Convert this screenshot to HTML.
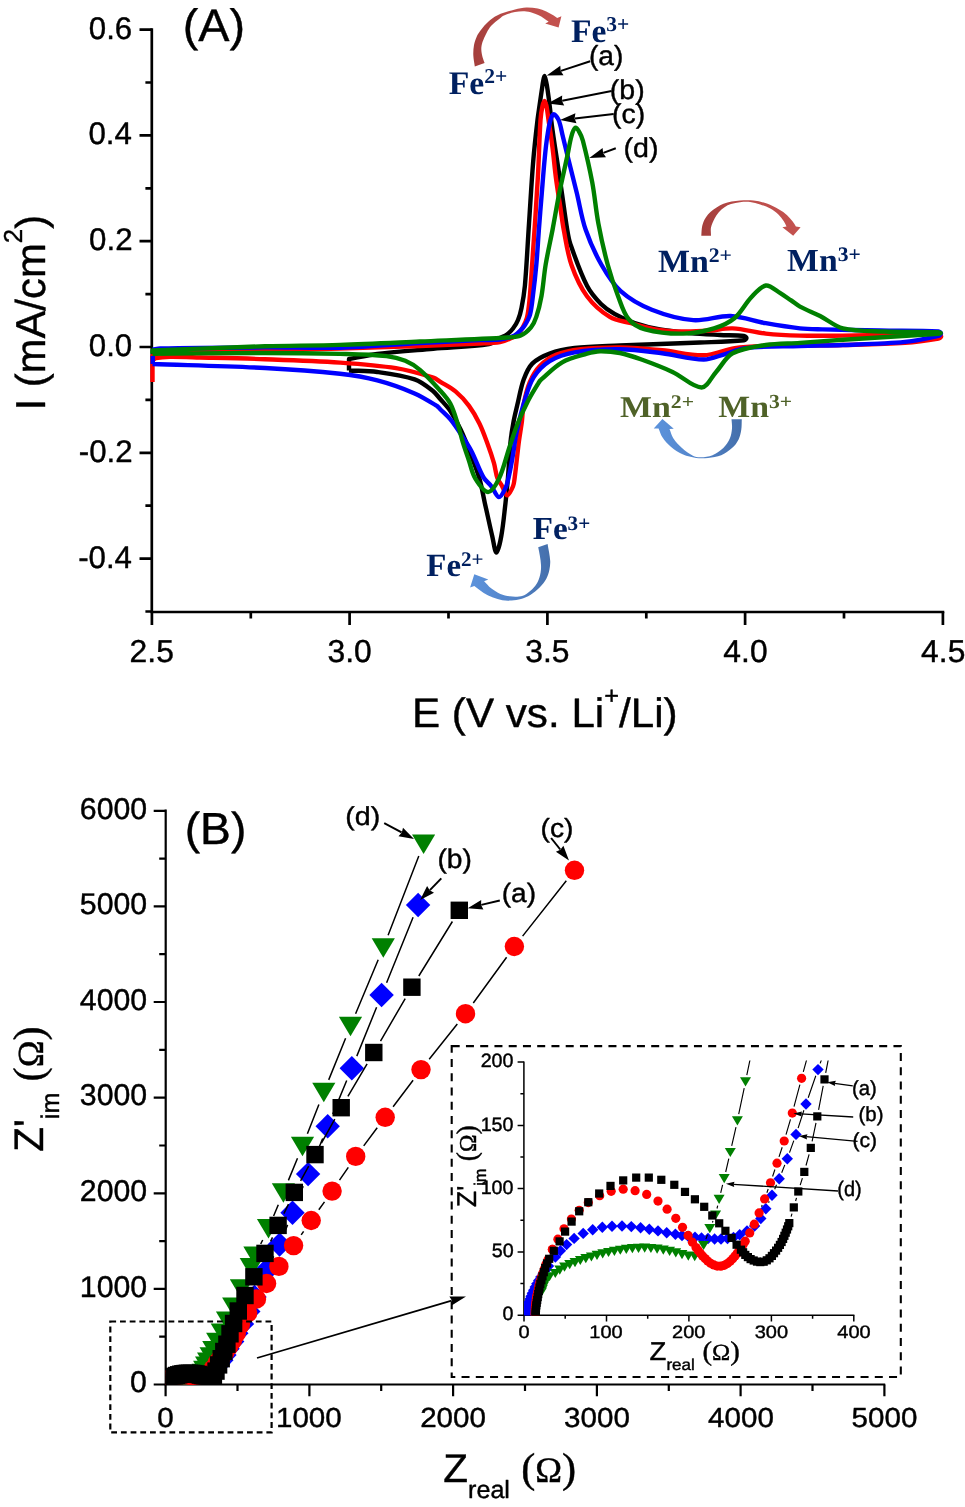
<!DOCTYPE html>
<html><head><meta charset="utf-8"><style>
html,body{margin:0;padding:0;background:#fff;}
svg{display:block;}
svg{will-change:transform;}

</style></head><body>
<svg width="965" height="1507" viewBox="0 0 965 1507" text-rendering="geometricPrecision">
<defs>
<clipPath id="clipM"><rect x="165.6" y="780" width="760" height="604.5"/></clipPath>
<clipPath id="clipI"><rect x="524" y="1060.5" width="340" height="254.7"/></clipPath>
<linearGradient id="gRed" gradientUnits="objectBoundingBox" x1="0" y1="0" x2="1" y2="0"><stop offset="0" stop-color="#a33e3b"/><stop offset="0.45" stop-color="#bb4d4a"/><stop offset="1" stop-color="#c4524f"/></linearGradient>
<linearGradient id="gBlue" gradientUnits="objectBoundingBox" x1="0" y1="0" x2="1" y2="0"><stop offset="0" stop-color="#5c93dc"/><stop offset="0.5" stop-color="#5485ca"/><stop offset="1" stop-color="#446fab"/></linearGradient>
</defs>
<rect width="965" height="1507" fill="#fff"/>
<path d="M151.8,28.3V613.3 M150.5,612H944.3" stroke="#000" stroke-width="2.7" fill="none"/>
<path d="M139.5,29.6H151.8 M145.4,82.5H151.8 M139.5,135.4H151.8 M145.4,188.3H151.8 M139.5,241.2H151.8 M145.4,294.1H151.8 M139.5,347.0H151.8 M145.4,399.9H151.8 M139.5,452.8H151.8 M145.4,505.7H151.8 M139.5,558.6H151.8 M145.4,611.5H151.8 M151.9,612V624.9 M250.8,612V618.5 M349.6,612V624.9 M448.5,612V618.5 M547.4,612V624.9 M646.3,612V618.5 M745.1,612V624.9 M844.0,612V618.5 M942.9,612V624.9" stroke="#000" stroke-width="2.7" fill="none"/>
<path d="M165.7,809.6V1385.6 M164.6,1384.5H885.2" stroke="#000" stroke-width="2.2" fill="none"/>
<path d="M153.7,1384.5H165.7 M159.2,1336.7H165.7 M153.7,1288.9H165.7 M159.2,1241.1H165.7 M153.7,1193.3H165.7 M159.2,1145.5H165.7 M153.7,1097.6H165.7 M159.2,1049.8H165.7 M153.7,1002.0H165.7 M159.2,954.2H165.7 M153.7,906.4H165.7 M159.2,858.6H165.7 M153.7,810.8H165.7 M165.6,1384.5V1396.3 M237.5,1384.5V1391.0 M309.4,1384.5V1396.3 M381.2,1384.5V1391.0 M453.1,1384.5V1396.3 M525.0,1384.5V1391.0 M596.9,1384.5V1396.3 M668.8,1384.5V1391.0 M740.6,1384.5V1396.3 M812.5,1384.5V1391.0 M884.4,1384.5V1396.3" stroke="#000" stroke-width="2.2" fill="none"/>
<path d="M349.0,370.5 C349.0,366.7 349.0,362.8 349.0,359.0 L349.0,359.0 C358.4,357.3 367.8,355.2 377.3,354.0 C395.9,351.7 414.6,350.4 433.3,348.7 C451.9,347.0 470.8,346.9 489.0,344.0 C493.1,343.3 496.3,339.9 500.0,338.0 C502.3,336.8 504.9,336.0 507.0,334.5 C509.3,332.9 511.3,330.7 513.0,328.5 C515.0,325.9 516.8,323.0 518.0,320.0 C519.6,316.2 520.7,312.1 521.5,308.0 C523.0,300.7 524.2,293.3 524.9,285.8 C526.7,265.1 527.6,244.3 529.0,223.6 C530.4,202.9 531.5,182.2 533.2,161.5 C534.3,147.6 535.9,133.8 537.5,120.0 C538.1,115.0 538.9,110.0 539.6,105.0 C540.2,100.7 540.9,96.3 541.5,92.0 C542.1,88.3 542.5,84.6 543.2,81.0 C543.5,79.3 544.0,76.0 544.5,76.0 C545.0,76.0 545.6,79.3 546.0,81.0 C546.7,84.0 547.2,87.0 547.6,90.0 C548.5,96.2 549.3,102.3 550.0,108.5 C550.7,114.0 551.1,119.5 551.8,125.0 C552.8,132.3 553.9,139.7 555.0,147.0 C556.2,155.0 557.5,163.0 558.7,171.0 C559.8,178.3 560.8,185.7 561.9,193.0 C563.7,205.2 565.2,217.4 567.2,229.5 C568.0,234.5 568.8,239.6 570.5,244.4 C575.4,258.4 580.3,272.7 587.0,285.8 C590.5,292.6 595.7,298.6 601.0,304.0 C604.9,307.9 609.7,311.2 614.5,313.9 C620.9,317.5 627.7,320.7 634.7,323.1 C642.9,325.9 651.5,328.0 660.0,329.5 C669.9,331.3 680.0,332.1 690.0,333.0 C700.0,333.9 710.0,334.4 720.0,335.0 C728.0,335.4 736.2,335.1 744.0,336.0 C745.0,336.1 746.5,337.3 746.5,338.0 C746.5,338.7 745.1,340.2 744.0,340.3 C729.6,341.7 714.7,341.9 700.0,342.5 C686.7,343.1 673.3,343.5 660.0,344.0 C646.7,344.5 633.3,344.9 620.0,345.5 C604.9,346.2 589.6,346.3 574.6,348.0 C566.2,349.0 557.6,350.7 549.7,353.6 C543.5,355.9 536.9,359.0 532.3,363.6 C528.2,367.7 525.7,374.0 523.6,379.7 C520.7,387.7 519.4,396.3 517.4,404.6 C516.1,410.2 514.6,415.8 513.6,421.5 C512.3,428.4 511.2,435.3 510.5,442.2 C509.3,454.2 508.9,466.3 507.9,478.4 C507.2,486.6 506.4,494.7 505.5,502.9 C504.2,513.9 503.3,525.1 501.3,536.0 C500.3,541.7 497.9,552.6 496.4,552.6 C494.9,552.6 493.5,541.6 492.2,536.0 C489.6,525.0 487.3,513.9 484.8,502.9 C483.0,494.7 481.7,486.4 479.4,478.4 C476.8,469.6 473.4,461.1 470.1,452.5 C467.2,444.8 464.2,437.1 460.7,429.7 C457.7,423.3 454.3,417.0 450.4,411.1 C447.4,406.6 443.5,402.8 440.0,398.7 C437.7,396.1 435.7,393.1 433.0,391.0 C427.3,386.6 421.4,381.7 414.6,379.4 C402.8,375.4 389.8,373.7 377.3,372.0 C368.0,370.7 358.4,371.0 349.0,370.5" stroke="#000" stroke-width="4.4" fill="none" stroke-linejoin="round" stroke-linecap="butt"/>
<path d="M152.5,382.0 C152.5,373.3 152.5,364.7 152.5,356.0 L152.5,356.0 C155.0,354.8 157.3,352.6 160.0,352.3 C173.1,351.1 186.7,351.7 200.0,351.5 C221.7,351.1 243.3,350.9 265.0,350.5 C290.0,350.0 315.0,349.3 340.0,348.6 C366.7,347.8 393.3,347.0 420.0,346.0 C440.0,345.3 460.0,344.5 480.0,343.5 C486.7,343.2 493.5,343.2 500.0,342.0 C504.3,341.2 508.5,339.5 512.4,337.6 C514.5,336.6 516.4,335.1 518.0,333.5 C519.8,331.7 521.5,329.6 522.8,327.3 C524.5,324.2 526.2,320.9 527.0,317.5 C528.4,311.8 528.9,305.9 529.5,300.0 C530.6,288.4 531.3,276.7 532.1,265.0 C533.2,250.0 534.2,235.0 535.2,220.0 C536.2,205.0 537.2,190.0 538.0,175.0 C539.0,156.7 539.3,138.3 540.5,120.0 C540.8,115.3 541.5,110.6 542.5,106.0 C542.9,104.2 543.9,101.0 544.6,101.0 C545.3,101.0 546.1,104.3 546.5,106.0 C547.4,110.6 547.8,115.3 548.5,120.0 C549.2,125.0 550.1,130.0 550.8,135.0 C551.5,139.7 552.1,144.5 552.7,149.2 C553.9,158.9 554.7,168.7 556.0,178.4 C557.3,188.2 558.9,197.9 560.4,207.6 C561.5,214.9 562.3,222.3 563.7,229.5 C566.0,241.4 567.5,253.6 571.5,265.0 C575.3,275.9 580.2,287.0 587.0,296.2 C593.0,304.3 601.3,311.7 609.8,316.9 C616.0,320.7 624.0,321.3 631.1,323.2 C639.2,325.4 647.2,328.0 655.4,329.3 C664.4,330.7 673.7,331.3 682.9,331.5 C691.9,331.7 701.0,331.1 710.0,330.5 C717.5,330.0 725.1,328.0 732.6,328.4 C743.7,329.0 754.7,332.4 765.8,333.6 C777.1,334.8 788.6,335.3 800.0,335.6 C814.3,336.0 828.6,335.7 842.9,335.6 C863.6,335.4 884.3,334.9 905.0,334.6 C916.2,334.4 927.6,333.7 938.5,334.3 C939.6,334.4 941.2,335.8 941.2,336.5 C941.2,337.2 939.6,338.3 938.5,338.5 C927.5,340.4 916.2,342.1 905.0,342.9 C884.4,344.3 863.6,344.5 842.9,345.0 C828.6,345.4 814.3,345.4 800.0,345.5 C788.6,345.6 777.2,345.3 765.8,345.8 C755.4,346.2 744.9,346.5 734.7,348.1 C724.2,349.7 714.1,355.0 703.6,355.3 C689.9,355.7 676.0,351.5 662.2,350.2 C648.2,348.9 634.1,347.6 620.0,347.4 C606.9,347.3 593.7,347.8 580.8,349.3 C572.4,350.3 563.7,351.7 556.0,354.9 C550.0,357.3 544.3,361.5 539.8,366.1 C535.5,370.6 532.2,376.4 529.8,382.2 C526.8,389.3 525.1,397.0 523.6,404.6 C522.5,410.1 522.6,415.9 521.9,421.5 C521.0,428.4 519.7,435.3 518.8,442.2 C517.3,454.2 516.2,466.4 514.6,478.4 C514.2,481.1 514.1,483.9 513.0,486.3 C511.6,489.5 509.0,495.4 507.2,495.4 C505.4,495.4 503.9,489.3 502.2,486.3 C500.7,483.6 498.5,481.3 497.5,478.4 C495.7,473.5 495.4,468.0 493.9,462.9 C492.1,456.6 490.0,450.4 487.7,444.2 C485.1,437.2 482.7,430.2 479.4,423.5 C476.4,417.4 473.0,411.3 469.0,405.9 C465.1,400.6 460.5,395.6 455.5,391.4 C450.9,387.5 445.2,384.8 440.0,381.6 C437.8,380.2 435.8,378.4 433.3,377.6 C421.1,373.9 408.6,370.2 396.0,368.2 C377.5,365.2 358.7,363.9 340.0,362.6 C315.0,360.9 290.0,360.1 265.0,359.2 C243.3,358.4 221.7,358.0 200.0,357.5 C190.0,357.2 180.0,356.7 170.0,356.8 C165.3,356.9 160.5,357.2 156.0,358.0 C154.8,358.2 154.0,359.3 153.0,360.0" stroke="#ff0000" stroke-width="4.4" fill="none" stroke-linejoin="round" stroke-linecap="butt"/>
<path d="M152.8,364.0 C152.8,361.3 152.8,358.7 152.8,356.0 M152.5,349.5 C155.0,349.2 157.5,348.5 160.0,348.5 C195.0,347.8 230.0,347.6 265.0,347.4 C290.0,347.3 315.0,348.4 340.0,347.7 C366.7,346.9 393.3,344.5 420.0,343.0 C440.0,341.9 460.0,340.9 480.0,340.0 C486.7,339.7 493.4,340.4 500.0,339.5 C504.9,338.9 510.0,337.5 514.5,335.5 C516.8,334.5 518.7,332.3 520.5,330.5 C522.1,328.9 523.7,327.2 524.9,325.2 C526.9,321.9 529.0,318.5 530.0,314.8 C531.7,308.4 532.2,301.6 533.0,295.0 C534.3,285.0 535.4,275.0 536.3,265.0 C537.4,253.2 538.0,241.3 538.9,229.5 C539.8,217.3 540.8,205.2 541.8,193.0 C542.8,180.8 543.7,168.7 544.9,156.5 C545.6,149.3 546.4,142.1 547.5,135.0 C548.3,130.0 549.0,124.8 550.5,120.0 C551.1,117.9 552.5,114.3 553.8,114.3 C555.2,114.3 557.7,117.8 558.6,120.0 C560.6,124.7 561.3,130.0 562.5,135.0 C564.3,142.2 565.9,149.3 567.7,156.5 C570.7,168.7 573.8,180.8 576.8,193.0 C579.8,205.2 581.5,217.7 585.6,229.5 C589.8,241.7 595.2,253.8 601.6,265.0 C606.9,274.3 612.8,284.1 620.7,291.1 C629.5,299.0 640.7,305.3 651.8,309.7 C664.9,314.9 679.3,319.0 693.3,320.1 C705.6,321.1 718.3,315.5 730.6,316.0 C742.4,316.5 754.0,321.1 765.8,323.2 C777.1,325.2 788.6,327.1 800.0,328.4 C807.4,329.2 814.8,329.2 822.2,329.4 C841.5,329.9 860.7,330.2 880.0,330.5 C899.5,330.9 919.2,330.6 938.5,331.5 C939.6,331.6 941.0,332.8 941.0,333.5 C941.0,334.2 939.6,335.5 938.5,335.8 C927.6,338.3 916.3,340.8 905.0,341.9 C884.4,343.9 863.6,344.2 842.9,345.0 C828.6,345.6 814.3,345.5 800.0,346.0 C781.7,346.6 763.2,346.1 745.1,348.1 C738.0,348.9 731.3,352.4 724.4,354.3 C717.5,356.2 710.6,359.6 703.6,359.5 C689.9,359.3 676.0,355.0 662.2,353.3 C648.2,351.6 634.1,349.4 620.0,349.3 C604.9,349.1 589.4,349.9 574.6,352.4 C566.0,353.8 557.0,356.7 549.7,361.1 C543.4,365.0 537.6,371.0 533.6,377.3 C529.4,383.9 527.3,392.0 524.9,399.6 C521.6,410.2 519.0,421.0 516.7,431.8 C514.9,440.3 514.0,449.1 512.5,457.7 C511.3,464.6 510.0,471.6 508.4,478.4 C507.6,481.7 507.0,485.1 505.5,488.0 C503.8,491.3 501.1,497.4 498.9,497.1 C496.4,496.8 494.1,489.7 491.4,486.3 C489.0,483.2 485.4,480.8 483.5,477.4 C478.7,468.9 475.7,459.2 471.1,450.5 C468.1,444.7 464.3,439.3 460.7,433.9 C457.4,429.0 454.2,423.9 450.4,419.4 C447.3,415.6 443.5,412.5 440.0,409.0 C439.0,408.0 438.2,406.7 437.0,406.0 C429.7,401.5 422.4,396.8 414.6,393.4 C402.5,388.2 390.0,383.7 377.3,380.4 C365.1,377.2 352.5,375.2 340.0,373.8 C315.1,371.1 290.0,369.3 265.0,368.0 C227.5,366.0 190.0,365.3 152.5,364.0" stroke="#0000ff" stroke-width="4.4" fill="none" stroke-linejoin="round" stroke-linecap="butt"/>
<path d="M152.5,353.7 C152.5,352.6 152.5,351.6 152.5,350.5 L152.5,350.5 C190.0,349.1 227.5,347.3 265.0,346.2 C290.0,345.5 315.0,345.7 340.0,344.9 C366.7,344.1 393.3,342.7 420.0,341.5 C449.3,340.2 478.6,339.2 507.9,337.5 C512.2,337.2 516.9,337.2 520.7,335.5 C524.6,333.8 528.2,330.6 531.0,327.3 C533.4,324.4 535.1,320.6 536.3,316.9 C538.6,310.1 540.2,303.1 541.5,296.0 C543.3,285.8 543.9,275.3 545.6,265.0 C547.6,253.1 550.3,241.3 552.6,229.5 C554.9,217.3 556.9,205.1 559.3,193.0 C561.7,180.8 564.6,168.7 567.2,156.5 C568.7,149.7 569.6,142.7 571.5,136.0 C572.3,133.1 573.8,128.6 575.4,127.7 C576.4,127.2 578.3,130.2 579.2,131.8 C580.8,134.5 582.1,137.6 582.9,140.7 C586.4,154.4 589.6,168.3 592.2,182.2 C594.8,195.9 595.8,209.9 598.4,223.6 C601.0,237.5 604.1,251.4 607.8,265.0 C610.7,275.6 614.2,286.0 618.1,296.2 C621.1,304.0 623.4,312.8 628.5,319.0 C632.4,323.8 638.9,327.6 645.1,329.3 C657.1,332.5 670.3,333.8 682.9,333.6 C693.3,333.5 704.0,331.4 714.0,328.4 C721.3,326.2 728.9,322.8 734.7,318.0 C741.3,312.5 745.2,303.7 751.3,297.3 C755.6,292.8 760.7,286.2 765.8,285.5 C770.3,284.9 775.6,290.4 780.3,293.2 C784.0,295.4 787.5,298.0 791.1,300.4 C794.1,302.4 796.8,304.9 800.0,306.6 C806.5,310.1 813.5,312.7 820.1,316.0 C827.8,319.9 834.7,326.4 842.9,328.4 C856.1,331.6 870.5,330.9 884.4,331.5 C902.4,332.2 920.5,331.8 938.5,332.3 C939.3,332.3 940.8,332.8 940.8,333.0 C940.8,333.3 939.3,333.7 938.5,333.8 C906.7,336.0 874.8,337.7 842.9,339.8 C828.6,340.7 814.3,341.9 800.0,342.9 C788.6,343.7 777.0,343.3 765.8,345.0 C754.6,346.7 742.2,348.1 732.6,353.3 C725.6,357.1 721.7,365.8 716.1,371.9 C711.3,377.2 707.3,387.5 701.6,387.5 C692.8,387.5 682.5,376.5 672.5,371.9 C662.4,367.2 652.0,363.3 641.5,359.5 C634.5,357.0 627.3,354.5 620.0,353.0 C613.5,351.7 606.6,351.1 600.0,351.2 C595.6,351.3 591.2,352.4 587.0,353.6 C578.6,356.1 569.7,358.0 562.2,362.3 C554.4,366.7 547.9,373.7 541.0,379.7 C539.9,380.6 539.1,381.9 538.4,383.1 C534.8,388.9 531.2,394.7 528.1,400.7 C524.3,408.1 520.8,415.8 517.7,423.5 C514.6,431.3 512.1,439.4 509.4,447.4 C505.9,457.7 503.7,468.7 499.1,478.4 C496.6,483.6 491.9,492.1 488.1,492.1 C484.0,492.1 478.4,483.6 475.2,478.4 C472.0,473.2 471.0,466.7 469.0,460.8 C466.9,454.6 464.7,448.4 462.8,442.2 C460.9,436.0 459.6,429.7 457.6,423.5 C455.5,416.9 453.6,409.9 450.4,403.8 C447.8,398.9 443.8,394.6 440.0,390.4 C433.7,383.4 427.3,376.2 420.2,370.1 C415.8,366.3 410.6,363.0 405.3,360.8 C399.4,358.4 393.0,356.8 386.6,356.1 C371.2,354.5 355.5,354.3 340.0,353.9 C315.0,353.3 290.0,353.0 265.0,353.0 C227.5,353.0 190.0,353.5 152.5,353.7" stroke="#008000" stroke-width="4.4" fill="none" stroke-linejoin="round" stroke-linecap="butt"/>
<path d="M474.8,66.4 C474.3,62.6 473.4,58.8 473.3,55.0 C473.2,51.7 473.4,48.3 474.0,45.0 C474.6,41.9 475.7,38.8 477.0,36.0 C478.1,33.6 479.7,31.5 481.3,29.4 C483.3,26.8 485.5,24.2 488.0,22.0 C490.9,19.4 494.1,16.8 497.6,15.2 C503.1,12.6 509.1,11.0 515.0,9.4 C518.7,8.4 522.6,7.6 526.4,7.4 C530.2,7.3 534.1,7.8 537.8,8.5 C540.7,9.1 543.6,10.2 546.3,11.4 C548.9,12.5 551.3,14.0 553.7,15.4 C554.9,16.1 556.0,17.1 557.2,17.9 L561.4,16.2 L558.6,27.6 L545.2,23.4 L548.6,21.7 L548.6,21.7 C548.0,21.3 547.5,20.9 546.9,20.5 C545.0,19.2 543.2,17.6 541.2,16.5 C539.2,15.4 537.1,14.4 535.0,13.7 C532.2,12.7 529.3,11.6 526.4,11.4 C522.7,11.1 518.7,11.3 515.0,12.0 C511.2,12.7 507.5,14.0 504.0,15.5 C502.4,16.2 501.1,17.4 499.8,18.5 C496.8,20.9 493.6,23.2 491.0,26.0 C489.3,27.9 488.0,30.3 486.8,32.6 C485.2,35.6 483.6,38.8 482.5,42.0 C481.8,44.2 481.3,46.7 481.3,49.0 C481.3,51.7 481.9,54.4 482.5,57.0 C483.0,59.1 483.9,61.1 484.6,63.1 Z" fill="url(#gRed)"/>
<path d="M701.3,235.8 C701.6,232.5 701.5,229.2 702.2,226.0 C702.9,223.2 704.0,220.4 705.5,218.0 C707.0,215.6 708.8,213.2 711.0,211.5 C714.8,208.5 719.0,205.4 723.5,203.7 C728.6,201.8 734.5,201.2 740.0,200.6 C744.5,200.1 749.1,200.0 753.5,200.5 C758.0,201.0 762.6,202.1 766.9,203.6 C771.1,205.1 775.2,207.3 779.1,209.6 C781.9,211.2 784.7,213.1 787.1,215.2 C789.1,217.0 790.8,219.2 792.5,221.3 C793.8,223.0 794.8,224.8 795.9,226.6 L800.6,227.3 L793.2,235.7 L782.4,227.2 L786.5,226.6 L786.5,226.6 C785.6,224.8 784.9,222.9 783.8,221.3 C782.2,218.9 780.5,216.5 778.4,214.5 C776.0,212.2 773.2,210.1 770.3,208.5 C767.1,206.8 763.6,205.5 760.2,204.4 C756.9,203.3 753.5,202.4 750.1,202.0 C746.8,201.6 743.3,201.9 740.0,202.2 C737.0,202.5 733.9,203.1 731.0,204.0 C728.7,204.7 726.5,205.9 724.5,207.2 C722.4,208.6 720.5,210.3 718.8,212.2 C717.2,214.1 715.7,216.3 714.6,218.5 C713.1,221.4 711.7,224.5 711.0,227.6 C710.5,230.2 711.0,233.1 711.0,235.8 Z" fill="url(#gRed)"/>
<path d="M547.6,544.1 C548.5,549.6 549.8,555.2 550.2,560.7 C550.4,563.7 550.0,566.8 549.4,569.7 C548.7,572.9 547.8,576.2 546.2,579.0 C544.5,582.1 542.1,584.9 539.6,587.4 C536.8,590.2 533.7,592.8 530.3,594.9 C527.5,596.7 524.2,598.0 521.0,599.0 C518.0,599.9 514.8,600.4 511.6,600.6 C508.5,600.8 505.3,600.8 502.3,600.3 C499.1,599.8 496.0,598.8 493.0,597.6 C489.8,596.3 486.6,594.8 483.7,593.0 C480.4,590.9 477.4,588.3 474.3,586.0 L470.1,587.4 L474.3,574.3 L488.3,579.5 L484.1,581.3 L484.1,581.3 C486.4,583.6 488.5,586.3 491.1,588.3 C493.9,590.5 497.1,592.5 500.4,593.9 C503.3,595.2 506.6,595.8 509.8,596.3 C512.2,596.7 514.8,596.9 517.2,596.7 C519.7,596.5 522.4,596.0 524.7,594.9 C527.4,593.5 530.0,591.5 532.2,589.3 C534.4,587.1 536.4,584.5 537.8,581.8 C539.2,578.9 540.0,575.7 540.6,572.5 C541.1,570.1 541.1,567.5 541.0,565.0 C540.9,561.8 540.3,558.7 539.8,555.5 C539.4,552.8 538.7,550.0 538.2,547.3 Z" fill="url(#gBlue)"/>
<path d="M741.8,419.2 C741.6,422.7 741.8,426.2 741.3,429.6 C740.8,432.9 740.1,436.4 738.6,439.4 C737.0,442.6 734.7,445.7 732.0,448.1 C728.9,451.0 725.1,453.6 721.2,455.2 C717.1,456.9 712.5,457.4 708.1,457.9 C704.1,458.3 700.0,458.4 696.1,457.9 C691.7,457.3 687.1,456.4 683.1,454.6 C678.8,452.7 674.7,450.0 671.1,447.0 C667.8,444.2 664.8,440.8 662.4,437.2 C660.6,434.6 659.9,431.4 658.6,428.5 L653.7,428.5 L662.4,418.9 L673.8,428.7 L669.5,429.0 L669.5,429.0 C670.8,432.1 671.5,435.5 673.3,438.3 C675.7,441.9 678.8,445.2 682.0,448.1 C685.3,451.0 689.0,453.8 692.9,455.7 C695.2,456.8 698.0,457.4 700.5,457.3 C704.5,457.2 708.8,456.7 712.5,455.2 C716.4,453.6 720.3,451.0 723.3,448.1 C726.1,445.4 728.3,441.8 729.9,438.3 C731.2,435.3 731.7,431.8 732.0,428.5 C732.3,425.4 731.7,422.3 731.5,419.2 Z" fill="url(#gBlue)"/>
<g clip-path="url(#clipM)"><path d="M260.0,1285.0L261.3,1282.0M272.7,1258.2L273.7,1256.4M284.5,1232.4L287.6,1224.9M297.4,1200.5L303.2,1186.3M313.1,1161.9L322.7,1138.5M332.8,1114.1L346.7,1080.5M356.8,1056.1L376.6,1007.2M386.6,982.8L413.1,917.2" stroke="#000" stroke-width="1.5" fill="none"/><g fill="#0000ff"><path d="M166.0,1372.3L178.2,1384.5L166.0,1396.7L153.8,1384.5Z"/><path d="M167.0,1370.2L179.2,1382.4L167.0,1394.6L154.8,1382.4Z"/><path d="M168.9,1368.7L181.1,1380.9L168.9,1393.1L156.7,1380.9Z"/><path d="M171.0,1367.7L183.2,1379.9L171.0,1392.1L158.8,1379.9Z"/><path d="M173.3,1366.9L185.5,1379.1L173.3,1391.3L161.1,1379.1Z"/><path d="M175.6,1366.4L187.8,1378.6L175.6,1390.8L163.4,1378.6Z"/><path d="M178.0,1366.0L190.2,1378.2L178.0,1390.4L165.8,1378.2Z"/><path d="M180.4,1365.7L192.6,1377.9L180.4,1390.1L168.2,1377.9Z"/><path d="M182.8,1365.5L195.0,1377.7L182.8,1389.9L170.6,1377.7Z"/><path d="M185.2,1365.5L197.4,1377.7L185.2,1389.9L173.0,1377.7Z"/><path d="M187.6,1365.6L199.8,1377.8L187.6,1390.0L175.4,1377.8Z"/><path d="M190.0,1365.7L202.2,1377.9L190.0,1390.1L177.8,1377.9Z"/><path d="M192.4,1366.0L204.6,1378.2L192.4,1390.4L180.2,1378.2Z"/><path d="M194.7,1366.5L206.9,1378.7L194.7,1390.9L182.5,1378.7Z"/><path d="M197.0,1367.0L209.2,1379.2L197.0,1391.4L184.8,1379.2Z"/><path d="M199.3,1367.8L211.5,1380.0L199.3,1392.2L187.1,1380.0Z"/><path d="M201.5,1368.9L213.7,1381.1L201.5,1393.3L189.3,1381.1Z"/><path d="M203.3,1370.4L215.5,1382.6L203.3,1394.8L191.1,1382.6Z"/><path d="M207.0,1365.8L219.2,1378.0L207.0,1390.2L194.8,1378.0Z"/><path d="M210.0,1362.3L222.2,1374.5L210.0,1386.7L197.8,1374.5Z"/><path d="M213.0,1358.3L225.2,1370.5L213.0,1382.7L200.8,1370.5Z"/><path d="M215.8,1354.8L228.0,1367.0L215.8,1379.2L203.6,1367.0Z"/><path d="M218.2,1351.6L230.4,1363.8L218.2,1376.0L206.0,1363.8Z"/><path d="M221.3,1348.0L233.5,1360.2L221.3,1372.4L209.1,1360.2Z"/><path d="M224.4,1342.8L236.6,1355.0L224.4,1367.2L212.2,1355.0Z"/><path d="M227.5,1336.6L239.7,1348.8L227.5,1361.0L215.3,1348.8Z"/><path d="M232.2,1329.3L244.4,1341.5L232.2,1353.7L220.0,1341.5Z"/><path d="M236.3,1321.0L248.5,1333.2L236.3,1345.4L224.1,1333.2Z"/><path d="M242.0,1311.7L254.2,1323.9L242.0,1336.1L229.8,1323.9Z"/><path d="M248.3,1299.3L260.5,1311.5L248.3,1323.7L236.1,1311.5Z"/><path d="M254.5,1284.8L266.7,1297.0L254.5,1309.2L242.3,1297.0Z"/><path d="M266.8,1257.8L279.0,1270.0L266.8,1282.2L254.6,1270.0Z"/><path d="M279.6,1232.4L291.8,1244.6L279.6,1256.8L267.4,1244.6Z"/><path d="M292.5,1200.5L304.7,1212.7L292.5,1224.9L280.3,1212.7Z"/><path d="M308.1,1161.9L320.3,1174.1L308.1,1186.3L295.9,1174.1Z"/><path d="M327.7,1114.1L339.9,1126.3L327.7,1138.5L315.5,1126.3Z"/><path d="M351.8,1056.1L364.0,1068.3L351.8,1080.5L339.6,1068.3Z"/><path d="M381.6,982.8L393.8,995.0L381.6,1007.2L369.4,995.0Z"/><path d="M418.1,892.8L430.3,905.0L418.1,917.2L405.9,905.0Z"/></g></g><g clip-path="url(#clipM)"><path d="M260.7,1244.0L262.7,1240.0M273.6,1216.0L278.3,1204.8M288.4,1180.4L297.5,1158.2M307.4,1133.7L318.9,1104.4M328.7,1079.9L345.6,1038.2M355.6,1013.8L378.2,959.7M388.1,935.2L418.8,856.1" stroke="#000" stroke-width="1.5" fill="none"/><g fill="#008000"><path d="M156.4,1375.2L179.6,1375.2L168.0,1394.7Z"/><path d="M157.8,1373.1L181.0,1373.1L169.4,1392.6Z"/><path d="M160.1,1371.9L183.3,1371.9L171.7,1391.4Z"/><path d="M162.6,1371.1L185.8,1371.1L174.2,1390.6Z"/><path d="M165.1,1370.6L188.3,1370.6L176.7,1390.1Z"/><path d="M167.7,1370.3L190.9,1370.3L179.3,1389.8Z"/><path d="M170.3,1370.1L193.5,1370.1L181.9,1389.6Z"/><path d="M172.9,1370.0L196.1,1370.0L184.5,1389.5Z"/><path d="M175.5,1370.1L198.7,1370.1L187.1,1389.6Z"/><path d="M178.1,1370.3L201.3,1370.3L189.7,1389.8Z"/><path d="M180.6,1370.6L203.8,1370.6L192.2,1390.1Z"/><path d="M183.2,1371.1L206.4,1371.1L194.8,1390.6Z"/><path d="M185.7,1371.9L208.9,1371.9L197.3,1391.4Z"/><path d="M188.0,1373.1L211.2,1373.1L199.6,1392.6Z"/><path d="M189.4,1375.2L212.6,1375.2L201.0,1394.7Z"/><path d="M191.6,1363.8L214.8,1363.8L203.2,1383.3Z"/><path d="M193.1,1360.7L216.3,1360.7L204.7,1380.2Z"/><path d="M195.0,1356.5L218.2,1356.5L206.6,1376.0Z"/><path d="M197.0,1352.4L220.2,1352.4L208.6,1371.9Z"/><path d="M199.5,1347.2L222.7,1347.2L211.1,1366.7Z"/><path d="M202.2,1341.0L225.4,1341.0L213.8,1360.5Z"/><path d="M206.1,1332.7L229.3,1332.7L217.7,1352.2Z"/><path d="M210.7,1323.4L233.9,1323.4L222.3,1342.9Z"/><path d="M215.9,1311.5L239.1,1311.5L227.5,1331.0Z"/><path d="M222.1,1297.5L245.3,1297.5L233.7,1317.0Z"/><path d="M229.8,1279.3L253.0,1279.3L241.4,1298.8Z"/><path d="M239.7,1258.1L262.9,1258.1L251.3,1277.6Z"/><path d="M243.3,1246.5L266.5,1246.5L254.9,1266.0Z"/><path d="M256.9,1218.9L280.1,1218.9L268.5,1238.4Z"/><path d="M271.8,1183.3L295.0,1183.3L283.4,1202.8Z"/><path d="M290.9,1136.7L314.1,1136.7L302.5,1156.2Z"/><path d="M312.2,1082.8L335.4,1082.8L323.8,1102.3Z"/><path d="M338.9,1016.7L362.1,1016.7L350.5,1036.2Z"/><path d="M371.7,938.2L394.9,938.2L383.3,957.7Z"/><path d="M412.0,834.5L435.2,834.5L423.6,854.0Z"/></g></g><g clip-path="url(#clipM)"><path d="M301.2,1234.8L303.6,1231.3M318.8,1209.7L324.5,1201.9M339.5,1180.2L348.3,1167.3M363.7,1145.9L377.2,1127.8M393.1,1106.7L413.1,1080.2M429.2,1059.3L457.3,1024.0M473.3,1003.0L506.6,957.2M522.6,936.1L566.3,880.7" stroke="#000" stroke-width="1.5" fill="none"/><g fill="#ff0000"><circle cx="167.0" cy="1384.5" r="9.7"/><circle cx="167.4" cy="1382.3" r="9.7"/><circle cx="168.5" cy="1380.4" r="9.7"/><circle cx="170.0" cy="1378.9" r="9.7"/><circle cx="171.8" cy="1377.6" r="9.7"/><circle cx="173.8" cy="1376.6" r="9.7"/><circle cx="175.8" cy="1375.8" r="9.7"/><circle cx="177.9" cy="1375.3" r="9.7"/><circle cx="180.1" cy="1374.9" r="9.7"/><circle cx="182.3" cy="1374.7" r="9.7"/><circle cx="184.5" cy="1374.7" r="9.7"/><circle cx="186.7" cy="1374.9" r="9.7"/><circle cx="188.9" cy="1375.2" r="9.7"/><circle cx="191.0" cy="1375.8" r="9.7"/><circle cx="193.1" cy="1376.5" r="9.7"/><circle cx="195.0" cy="1377.5" r="9.7"/><circle cx="196.9" cy="1378.7" r="9.7"/><circle cx="198.4" cy="1380.3" r="9.7"/><circle cx="199.5" cy="1382.2" r="9.7"/><circle cx="200.0" cy="1384.3" r="9.7"/><circle cx="205.0" cy="1379.0" r="9.7"/><circle cx="209.0" cy="1374.5" r="9.7"/><circle cx="213.0" cy="1369.0" r="9.7"/><circle cx="217.0" cy="1363.0" r="9.7"/><circle cx="221.0" cy="1357.5" r="9.7"/><circle cx="225.0" cy="1352.0" r="9.7"/><circle cx="228.8" cy="1346.5" r="9.7"/><circle cx="232.5" cy="1340.5" r="9.7"/><circle cx="236.2" cy="1333.5" r="9.7"/><circle cx="240.4" cy="1324.5" r="9.7"/><circle cx="247.7" cy="1313.0" r="9.7"/><circle cx="256.5" cy="1299.0" r="9.7"/><circle cx="266.6" cy="1283.5" r="9.7"/><circle cx="278.9" cy="1266.4" r="9.7"/><circle cx="293.6" cy="1245.6" r="9.7"/><circle cx="311.2" cy="1220.5" r="9.7"/><circle cx="332.1" cy="1191.1" r="9.7"/><circle cx="355.7" cy="1156.4" r="9.7"/><circle cx="385.2" cy="1117.3" r="9.7"/><circle cx="421.0" cy="1069.6" r="9.7"/><circle cx="465.5" cy="1013.7" r="9.7"/><circle cx="514.4" cy="946.5" r="9.7"/><circle cx="574.5" cy="870.3" r="9.7"/></g></g><g clip-path="url(#clipM)"><path d="M270.6,1241.4L272.5,1237.4M283.9,1213.6L288.5,1204.2M300.6,1180.8L308.7,1166.2M321.4,1143.1L334.8,1119.2M347.9,1096.3L367.1,1063.9M380.5,1041.1L405.2,998.6M418.8,976.0L452.4,921.5" stroke="#000" stroke-width="1.5" fill="none"/><g fill="#000"><rect x="159.3" y="1375.8" width="17.4" height="17.4"/><rect x="159.7" y="1373.6" width="17.4" height="17.4"/><rect x="160.7" y="1371.7" width="17.4" height="17.4"/><rect x="162.2" y="1370.1" width="17.4" height="17.4"/><rect x="164.0" y="1368.8" width="17.4" height="17.4"/><rect x="165.9" y="1367.7" width="17.4" height="17.4"/><rect x="167.9" y="1366.8" width="17.4" height="17.4"/><rect x="170.0" y="1366.1" width="17.4" height="17.4"/><rect x="172.1" y="1365.5" width="17.4" height="17.4"/><rect x="174.2" y="1365.1" width="17.4" height="17.4"/><rect x="176.4" y="1364.8" width="17.4" height="17.4"/><rect x="178.6" y="1364.6" width="17.4" height="17.4"/><rect x="180.8" y="1364.6" width="17.4" height="17.4"/><rect x="183.0" y="1364.7" width="17.4" height="17.4"/><rect x="185.2" y="1364.9" width="17.4" height="17.4"/><rect x="187.4" y="1365.3" width="17.4" height="17.4"/><rect x="189.5" y="1365.7" width="17.4" height="17.4"/><rect x="191.6" y="1366.4" width="17.4" height="17.4"/><rect x="193.7" y="1367.2" width="17.4" height="17.4"/><rect x="195.6" y="1368.2" width="17.4" height="17.4"/><rect x="197.5" y="1369.4" width="17.4" height="17.4"/><rect x="199.1" y="1370.8" width="17.4" height="17.4"/><rect x="200.4" y="1372.6" width="17.4" height="17.4"/><rect x="201.2" y="1374.6" width="17.4" height="17.4"/><rect x="202.3" y="1372.3" width="17.4" height="17.4"/><rect x="204.7" y="1368.3" width="17.4" height="17.4"/><rect x="207.3" y="1362.4" width="17.4" height="17.4"/><rect x="209.9" y="1356.2" width="17.4" height="17.4"/><rect x="212.5" y="1350.0" width="17.4" height="17.4"/><rect x="215.1" y="1342.8" width="17.4" height="17.4"/><rect x="218.2" y="1335.5" width="17.4" height="17.4"/><rect x="221.3" y="1325.1" width="17.4" height="17.4"/><rect x="224.9" y="1314.8" width="17.4" height="17.4"/><rect x="229.6" y="1302.3" width="17.4" height="17.4"/><rect x="236.3" y="1286.8" width="17.4" height="17.4"/><rect x="245.2" y="1268.1" width="17.4" height="17.4"/><rect x="256.3" y="1244.7" width="17.4" height="17.4"/><rect x="269.4" y="1216.7" width="17.4" height="17.4"/><rect x="285.6" y="1183.7" width="17.4" height="17.4"/><rect x="306.3" y="1145.9" width="17.4" height="17.4"/><rect x="332.5" y="1099.0" width="17.4" height="17.4"/><rect x="365.1" y="1043.8" width="17.4" height="17.4"/><rect x="403.2" y="978.5" width="17.4" height="17.4"/><rect x="450.6" y="901.6" width="17.4" height="17.4"/></g></g>
<rect x="451.7" y="1046.1" width="449.1" height="330.9" fill="#fff" stroke="#000" stroke-width="2.1" stroke-dasharray="8,6.25"/>
<path d="M523.9,1061.5V1316 M523.2,1315.3H854.4" stroke="#000" stroke-width="1.5" fill="none"/>
<path d="M517.6,1315.2H523.9 M520.4,1283.6H523.9 M517.6,1251.9H523.9 M520.4,1220.3H523.9 M517.6,1188.6H523.9 M520.4,1157.0H523.9 M517.6,1125.4H523.9 M520.4,1093.7H523.9 M517.6,1062.1H523.9 M524.0,1315.3V1321.6 M565.2,1315.3V1318.8 M606.5,1315.3V1321.6 M647.7,1315.3V1318.8 M688.9,1315.3V1321.6 M730.1,1315.3V1318.8 M771.4,1315.3V1321.6 M812.6,1315.3V1318.8 M853.8,1315.3V1321.6" stroke="#000" stroke-width="1.5" fill="none"/>
<g clip-path="url(#clipI)"><path d="M768.6,1202.7L769.2,1201.2M774.7,1189.2L776.5,1184.8M781.7,1172.7L784.8,1164.9M789.5,1152.6L793.8,1140.6M798.1,1128.1L803.9,1110.3M808.2,1097.8L815.8,1075.8M820.2,1063.4L827.8,1041.2" stroke="#000" stroke-width="1.15" fill="none"/><g fill="#0000ff"><path d="M527.2,1310.8L532.9,1316.5L527.2,1322.2L521.5,1316.5Z"/><path d="M527.4,1308.6L533.1,1314.3L527.4,1320.0L521.6,1314.3Z"/><path d="M527.5,1306.3L533.3,1312.0L527.5,1317.7L521.8,1312.0Z"/><path d="M527.7,1303.9L533.5,1309.6L527.7,1315.3L522.0,1309.6Z"/><path d="M528.0,1301.4L533.8,1307.1L528.0,1312.8L522.3,1307.1Z"/><path d="M528.5,1298.8L534.2,1304.5L528.5,1310.2L522.8,1304.5Z"/><path d="M529.2,1296.1L534.9,1301.8L529.2,1307.5L523.5,1301.8Z"/><path d="M530.1,1293.3L535.8,1299.0L530.1,1304.8L524.4,1299.0Z"/><path d="M531.1,1290.4L536.8,1296.2L531.1,1301.9L525.4,1296.2Z"/><path d="M532.3,1287.5L538.1,1293.2L532.3,1299.0L526.6,1293.2Z"/><path d="M533.7,1284.4L539.4,1290.2L533.7,1295.9L528.0,1290.2Z"/><path d="M535.2,1281.3L540.9,1287.0L535.2,1292.8L529.5,1287.0Z"/><path d="M536.9,1278.0L542.6,1283.8L536.9,1289.5L531.1,1283.8Z"/><path d="M538.7,1274.7L544.5,1280.4L538.7,1286.1L533.0,1280.4Z"/><path d="M540.9,1271.2L546.6,1277.0L540.9,1282.7L535.1,1277.0Z"/><path d="M543.2,1267.7L548.9,1273.5L543.2,1279.2L537.5,1273.5Z"/><path d="M545.7,1264.1L551.5,1269.9L545.7,1275.6L540.0,1269.9Z"/><path d="M548.5,1260.4L554.2,1266.1L548.5,1271.9L542.7,1266.1Z"/><path d="M555.4,1251.3L561.1,1257.0L555.4,1262.7L549.7,1257.0Z"/><path d="M560.4,1245.1L566.1,1250.8L560.4,1256.5L554.7,1250.8Z"/><path d="M566.6,1238.9L572.3,1244.6L566.6,1250.3L560.9,1244.6Z"/><path d="M574.1,1232.7L579.8,1238.4L574.1,1244.1L568.4,1238.4Z"/><path d="M583.2,1227.7L588.9,1233.4L583.2,1239.1L577.5,1233.4Z"/><path d="M592.7,1224.0L598.4,1229.7L592.7,1235.4L587.0,1229.7Z"/><path d="M602.3,1221.5L608.0,1227.2L602.3,1232.9L596.6,1227.2Z"/><path d="M612.0,1220.5L617.7,1226.2L612.0,1231.9L606.3,1226.2Z"/><path d="M622.0,1220.3L627.7,1226.0L622.0,1231.7L616.3,1226.0Z"/><path d="M631.3,1220.9L637.0,1226.6L631.3,1232.3L625.6,1226.6Z"/><path d="M640.6,1222.0L646.3,1227.7L640.6,1233.4L634.9,1227.7Z"/><path d="M649.3,1223.5L655.0,1229.2L649.3,1234.9L643.6,1229.2Z"/><path d="M658.0,1225.2L663.7,1230.9L658.0,1236.6L652.3,1230.9Z"/><path d="M666.7,1227.0L672.4,1232.7L666.7,1238.4L661.0,1232.7Z"/><path d="M675.4,1228.5L681.1,1234.2L675.4,1239.9L669.7,1234.2Z"/><path d="M682.0,1229.8L687.7,1235.5L682.0,1241.2L676.3,1235.5Z"/><path d="M688.5,1230.8L694.2,1236.5L688.5,1242.2L682.8,1236.5Z"/><path d="M695.0,1231.6L700.7,1237.3L695.0,1243.0L689.3,1237.3Z"/><path d="M701.5,1232.3L707.2,1238.0L701.5,1243.7L695.8,1238.0Z"/><path d="M708.0,1232.8L713.7,1238.5L708.0,1244.2L702.3,1238.5Z"/><path d="M714.6,1233.3L720.3,1239.0L714.6,1244.7L708.9,1239.0Z"/><path d="M721.0,1233.3L726.7,1239.0L721.0,1244.7L715.3,1239.0Z"/><path d="M727.5,1232.8L733.2,1238.5L727.5,1244.2L721.8,1238.5Z"/><path d="M733.5,1231.8L739.2,1237.5L733.5,1243.2L727.8,1237.5Z"/><path d="M739.7,1229.1L745.4,1234.8L739.7,1240.5L734.0,1234.8Z"/><path d="M747.0,1225.3L752.7,1231.0L747.0,1236.7L741.3,1231.0Z"/><path d="M754.6,1220.3L760.3,1226.0L754.6,1231.7L748.9,1226.0Z"/><path d="M760.8,1212.9L766.5,1218.6L760.8,1224.3L755.1,1218.6Z"/><path d="M765.8,1203.0L771.5,1208.7L765.8,1214.4L760.1,1208.7Z"/><path d="M772.0,1189.5L777.7,1195.2L772.0,1200.9L766.3,1195.2Z"/><path d="M779.2,1173.1L784.9,1178.8L779.2,1184.5L773.5,1178.8Z"/><path d="M787.3,1153.1L793.0,1158.8L787.3,1164.5L781.6,1158.8Z"/><path d="M796.0,1128.7L801.7,1134.4L796.0,1140.1L790.3,1134.4Z"/><path d="M806.0,1098.3L811.7,1104.0L806.0,1109.7L800.3,1104.0Z"/><path d="M818.0,1063.9L823.7,1069.6L818.0,1075.3L812.3,1069.6Z"/><path d="M830.0,1029.3L835.7,1035.0L830.0,1040.7L824.3,1035.0Z"/></g></g><g clip-path="url(#clipI)"><path d="M698.9,1251.2L699.5,1250.4M705.9,1239.1L707.5,1234.7M712.4,1222.4L713.0,1221.0M717.0,1208.5L717.7,1205.6M720.7,1192.8L722.6,1184.8M725.7,1172.0L728.8,1158.7M731.7,1145.9L736.0,1127.1M738.7,1114.2L744.2,1088.1M746.8,1075.1L750.7,1056.5" stroke="#000" stroke-width="1.15" fill="none"/><g fill="#008000"><path d="M536.0,1287.6L547.0,1287.6L541.5,1296.8Z"/><path d="M537.0,1284.8L547.9,1284.8L542.4,1293.9Z"/><path d="M538.0,1281.7L548.9,1281.7L543.5,1290.9Z"/><path d="M539.3,1278.4L550.2,1278.4L544.8,1287.6Z"/><path d="M541.2,1275.1L552.1,1275.1L546.7,1284.3Z"/><path d="M544.0,1272.2L554.9,1272.2L549.5,1281.3Z"/><path d="M549.8,1268.9L560.8,1268.9L555.3,1278.1Z"/><path d="M554.3,1265.5L565.2,1265.5L559.8,1274.7Z"/><path d="M559.1,1262.6L570.0,1262.6L564.5,1271.7Z"/><path d="M564.2,1260.1L575.1,1260.1L569.7,1269.3Z"/><path d="M569.5,1258.0L580.4,1258.0L575.0,1267.2Z"/><path d="M574.9,1255.9L585.8,1255.9L580.3,1265.1Z"/><path d="M580.3,1254.1L591.3,1254.1L585.8,1263.2Z"/><path d="M585.9,1252.4L596.8,1252.4L591.4,1261.6Z"/><path d="M591.6,1250.8L602.5,1250.8L597.0,1260.0Z"/><path d="M597.3,1249.3L608.2,1249.3L602.7,1258.5Z"/><path d="M603.1,1248.0L614.0,1248.0L608.5,1257.1Z"/><path d="M608.9,1246.7L619.8,1246.7L614.4,1255.9Z"/><path d="M614.9,1245.7L625.8,1245.7L620.3,1254.8Z"/><path d="M620.9,1244.8L631.8,1244.8L626.3,1253.9Z"/><path d="M626.9,1244.1L637.8,1244.1L632.4,1253.3Z"/><path d="M633.0,1243.7L644.0,1243.7L638.5,1252.9Z"/><path d="M639.2,1243.5L650.1,1243.5L644.7,1252.7Z"/><path d="M645.4,1243.9L656.3,1243.9L650.9,1253.0Z"/><path d="M651.7,1244.6L662.6,1244.6L657.1,1253.7Z"/><path d="M657.9,1245.6L668.8,1245.6L663.3,1254.8Z"/><path d="M664.1,1246.8L675.0,1246.8L669.6,1256.0Z"/><path d="M670.3,1248.3L681.2,1248.3L675.8,1257.5Z"/><path d="M676.5,1250.0L687.4,1250.0L682.0,1259.2Z"/><path d="M682.8,1251.6L693.7,1251.6L688.3,1260.8Z"/><path d="M689.3,1252.0L700.2,1252.0L694.7,1261.2Z"/><path d="M698.1,1240.9L709.1,1240.9L703.6,1250.1Z"/><path d="M704.3,1224.1L715.3,1224.1L709.8,1233.3Z"/><path d="M710.1,1210.5L721.1,1210.5L715.6,1219.7Z"/><path d="M713.6,1194.8L724.6,1194.8L719.1,1204.0Z"/><path d="M718.7,1174.0L729.7,1174.0L724.2,1183.2Z"/><path d="M724.8,1147.9L735.8,1147.9L730.3,1157.1Z"/><path d="M731.9,1116.3L742.9,1116.3L737.4,1125.5Z"/><path d="M740.0,1077.2L751.0,1077.2L745.5,1086.4Z"/><path d="M746.5,1045.6L757.5,1045.6L752.0,1054.8Z"/></g></g><g clip-path="url(#clipI)"><path d="M761.5,1206.8L762.2,1205.0M766.9,1192.7L768.2,1189.0M772.6,1176.5L774.9,1169.5M779.0,1156.9L782.2,1147.3M786.0,1134.7L790.5,1119.4M794.0,1106.7L799.9,1084.7M803.3,1071.9L810.3,1046.4" stroke="#000" stroke-width="1.15" fill="none"/><g fill="#ff0000"><circle cx="535.0" cy="1316.5" r="4.6"/><circle cx="535.1" cy="1314.3" r="4.6"/><circle cx="535.1" cy="1312.0" r="4.6"/><circle cx="535.2" cy="1309.5" r="4.6"/><circle cx="535.3" cy="1307.0" r="4.6"/><circle cx="535.6" cy="1304.3" r="4.6"/><circle cx="535.9" cy="1301.4" r="4.6"/><circle cx="536.4" cy="1298.5" r="4.6"/><circle cx="536.9" cy="1295.3" r="4.6"/><circle cx="537.6" cy="1292.1" r="4.6"/><circle cx="538.3" cy="1288.6" r="4.6"/><circle cx="539.1" cy="1285.0" r="4.6"/><circle cx="540.1" cy="1281.2" r="4.6"/><circle cx="541.3" cy="1277.3" r="4.6"/><circle cx="542.8" cy="1273.2" r="4.6"/><circle cx="544.3" cy="1268.9" r="4.6"/><circle cx="546.0" cy="1264.3" r="4.6"/><circle cx="548.0" cy="1259.7" r="4.6"/><circle cx="552.4" cy="1249.4" r="4.6"/><circle cx="552.4" cy="1249.4" r="4.6"/><circle cx="557.9" cy="1239.2" r="4.6"/><circle cx="564.0" cy="1228.8" r="4.6"/><circle cx="571.4" cy="1219.0" r="4.6"/><circle cx="579.2" cy="1210.3" r="4.6"/><circle cx="588.3" cy="1202.6" r="4.6"/><circle cx="599.7" cy="1195.7" r="4.6"/><circle cx="611.2" cy="1191.3" r="4.6"/><circle cx="623.2" cy="1189.2" r="4.6"/><circle cx="635.1" cy="1190.7" r="4.6"/><circle cx="646.7" cy="1194.4" r="4.6"/><circle cx="658.0" cy="1201.1" r="4.6"/><circle cx="667.1" cy="1209.2" r="4.6"/><circle cx="675.8" cy="1218.3" r="4.6"/><circle cx="682.5" cy="1227.3" r="4.6"/><circle cx="688.1" cy="1235.4" r="4.6"/><circle cx="692.4" cy="1242.2" r="4.6"/><circle cx="696.0" cy="1247.5" r="4.6"/><circle cx="698.1" cy="1250.4" r="4.6"/><circle cx="700.3" cy="1253.3" r="4.6"/><circle cx="702.6" cy="1256.0" r="4.6"/><circle cx="705.1" cy="1258.6" r="4.6"/><circle cx="707.7" cy="1261.1" r="4.6"/><circle cx="710.6" cy="1263.3" r="4.6"/><circle cx="713.8" cy="1264.9" r="4.6"/><circle cx="717.2" cy="1266.1" r="4.6"/><circle cx="720.8" cy="1266.2" r="4.6"/><circle cx="724.2" cy="1265.3" r="4.6"/><circle cx="727.4" cy="1263.6" r="4.6"/><circle cx="730.2" cy="1261.3" r="4.6"/><circle cx="732.7" cy="1258.8" r="4.6"/><circle cx="735.0" cy="1256.0" r="4.6"/><circle cx="737.2" cy="1253.2" r="4.6"/><circle cx="739.4" cy="1250.3" r="4.6"/><circle cx="741.4" cy="1247.3" r="4.6"/><circle cx="743.3" cy="1244.3" r="4.6"/><circle cx="745.2" cy="1241.2" r="4.6"/><circle cx="749.7" cy="1232.9" r="4.6"/><circle cx="754.3" cy="1224.2" r="4.6"/><circle cx="759.1" cy="1212.9" r="4.6"/><circle cx="764.6" cy="1198.9" r="4.6"/><circle cx="770.5" cy="1182.8" r="4.6"/><circle cx="777.0" cy="1163.2" r="4.6"/><circle cx="784.2" cy="1141.0" r="4.6"/><circle cx="792.3" cy="1113.1" r="4.6"/><circle cx="801.6" cy="1078.3" r="4.6"/><circle cx="812.0" cy="1040.0" r="4.6"/></g></g><g clip-path="url(#clipI)"><path d="M791.1,1216.7L792.0,1213.7M795.6,1201.0L796.5,1197.9M800.2,1185.2L802.4,1178.2M806.0,1165.5L809.1,1154.3M812.1,1141.4L816.0,1122.9M818.6,1109.9L823.2,1085.9M825.7,1072.9L830.8,1046.5" stroke="#000" stroke-width="1.15" fill="none"/><g fill="#000"><rect x="531.4" y="1312.4" width="8.2" height="8.2"/><rect x="531.5" y="1310.4" width="8.2" height="8.2"/><rect x="531.6" y="1308.3" width="8.2" height="8.2"/><rect x="531.7" y="1306.1" width="8.2" height="8.2"/><rect x="531.9" y="1303.7" width="8.2" height="8.2"/><rect x="532.2" y="1301.3" width="8.2" height="8.2"/><rect x="532.6" y="1298.7" width="8.2" height="8.2"/><rect x="533.1" y="1295.9" width="8.2" height="8.2"/><rect x="533.6" y="1293.0" width="8.2" height="8.2"/><rect x="534.1" y="1290.0" width="8.2" height="8.2"/><rect x="534.7" y="1286.8" width="8.2" height="8.2"/><rect x="535.4" y="1283.4" width="8.2" height="8.2"/><rect x="536.2" y="1279.8" width="8.2" height="8.2"/><rect x="537.3" y="1276.1" width="8.2" height="8.2"/><rect x="538.4" y="1272.2" width="8.2" height="8.2"/><rect x="539.7" y="1268.1" width="8.2" height="8.2"/><rect x="541.1" y="1263.8" width="8.2" height="8.2"/><rect x="542.9" y="1259.3" width="8.2" height="8.2"/><rect x="545.1" y="1254.7" width="8.2" height="8.2"/><rect x="549.7" y="1246.7" width="8.2" height="8.2"/><rect x="555.5" y="1237.3" width="8.2" height="8.2"/><rect x="561.0" y="1227.5" width="8.2" height="8.2"/><rect x="567.5" y="1217.5" width="8.2" height="8.2"/><rect x="575.1" y="1207.2" width="8.2" height="8.2"/><rect x="584.2" y="1198.1" width="8.2" height="8.2"/><rect x="595.1" y="1189.4" width="8.2" height="8.2"/><rect x="606.4" y="1181.8" width="8.2" height="8.2"/><rect x="619.1" y="1176.3" width="8.2" height="8.2"/><rect x="632.1" y="1173.5" width="8.2" height="8.2"/><rect x="644.7" y="1173.5" width="8.2" height="8.2"/><rect x="657.2" y="1175.7" width="8.2" height="8.2"/><rect x="670.2" y="1180.7" width="8.2" height="8.2"/><rect x="680.9" y="1187.8" width="8.2" height="8.2"/><rect x="690.8" y="1195.2" width="8.2" height="8.2"/><rect x="700.1" y="1202.7" width="8.2" height="8.2"/><rect x="708.2" y="1211.4" width="8.2" height="8.2"/><rect x="715.1" y="1219.2" width="8.2" height="8.2"/><rect x="721.3" y="1226.7" width="8.2" height="8.2"/><rect x="727.5" y="1233.8" width="8.2" height="8.2"/><rect x="732.5" y="1240.6" width="8.2" height="8.2"/><rect x="736.8" y="1245.6" width="8.2" height="8.2"/><rect x="739.0" y="1248.2" width="8.2" height="8.2"/><rect x="741.2" y="1250.8" width="8.2" height="8.2"/><rect x="743.8" y="1253.0" width="8.2" height="8.2"/><rect x="746.5" y="1255.0" width="8.2" height="8.2"/><rect x="749.6" y="1256.4" width="8.2" height="8.2"/><rect x="752.9" y="1257.5" width="8.2" height="8.2"/><rect x="756.2" y="1258.0" width="8.2" height="8.2"/><rect x="759.6" y="1257.6" width="8.2" height="8.2"/><rect x="762.7" y="1256.2" width="8.2" height="8.2"/><rect x="765.4" y="1254.2" width="8.2" height="8.2"/><rect x="767.8" y="1251.8" width="8.2" height="8.2"/><rect x="769.9" y="1249.1" width="8.2" height="8.2"/><rect x="772.0" y="1246.5" width="8.2" height="8.2"/><rect x="774.0" y="1243.7" width="8.2" height="8.2"/><rect x="775.8" y="1240.8" width="8.2" height="8.2"/><rect x="777.5" y="1237.9" width="8.2" height="8.2"/><rect x="779.0" y="1234.8" width="8.2" height="8.2"/><rect x="780.3" y="1231.7" width="8.2" height="8.2"/><rect x="781.6" y="1228.6" width="8.2" height="8.2"/><rect x="782.9" y="1225.4" width="8.2" height="8.2"/><rect x="784.1" y="1222.2" width="8.2" height="8.2"/><rect x="785.2" y="1219.0" width="8.2" height="8.2"/><rect x="789.7" y="1203.3" width="8.2" height="8.2"/><rect x="794.2" y="1187.4" width="8.2" height="8.2"/><rect x="800.2" y="1167.8" width="8.2" height="8.2"/><rect x="806.7" y="1143.8" width="8.2" height="8.2"/><rect x="813.2" y="1112.3" width="8.2" height="8.2"/><rect x="820.4" y="1075.3" width="8.2" height="8.2"/><rect x="827.9" y="1035.9" width="8.2" height="8.2"/></g></g>
<path d="M110.3,1321.5H271.6V1432.4H110.3Z" fill="none" stroke="#000" stroke-width="2.2" stroke-dasharray="5.8,3.9"/>
<path d="M257.0,1358.0L451.6,1300.6" stroke="#000" stroke-width="1.8" fill="none"/><path d="M466.0,1296.4L452.0,1305.3L451.9,1300.6L449.4,1296.5Z" fill="#000"/>
<path d="M590.2,61.2L560.9,70.9" stroke="#000" stroke-width="2" fill="none"/><path d="M546.7,75.6L560.3,65.8L560.7,71.0L563.5,75.3Z" fill="#000"/><path d="M611.6,91.0L562.2,100.7" stroke="#000" stroke-width="2" fill="none"/><path d="M547.5,103.6L562.2,95.6L561.9,100.8L564.2,105.4Z" fill="#000"/><path d="M613.7,114.1L574.9,118.4" stroke="#000" stroke-width="2" fill="none"/><path d="M560.0,120.0L575.4,113.3L574.6,118.4L576.5,123.2Z" fill="#000"/><path d="M615.8,148.3L603.4,152.9" stroke="#000" stroke-width="2" fill="none"/><path d="M589.3,158.1L602.6,147.9L603.1,153.0L606.0,157.2Z" fill="#000"/><path d="M384.2,823.2L401.6,832.4" stroke="#000" stroke-width="2" fill="none"/><path d="M414.0,838.9L398.5,836.2L401.8,832.5L403.0,827.7Z" fill="#000"/><path d="M441.3,878.4L429.9,890.1" stroke="#000" stroke-width="2" fill="none"/><path d="M420.1,900.1L427.1,886.0L429.7,890.2L434.0,892.7Z" fill="#000"/><path d="M499.8,900.5L481.3,904.9" stroke="#000" stroke-width="2" fill="none"/><path d="M467.7,908.2L481.2,900.0L481.1,905.0L483.4,909.4Z" fill="#000"/><path d="M551.1,838.0L560.3,849.5" stroke="#000" stroke-width="2" fill="none"/><path d="M569.0,860.5L555.9,851.7L560.4,849.7L563.4,845.8Z" fill="#000"/><path d="M852.8,1085.9L834.5,1083.3" stroke="#000" stroke-width="1.3" fill="none"/><path d="M827.1,1082.2L835.9,1080.8L834.8,1083.3L835.1,1086.0Z" fill="#000"/><path d="M853.2,1117.0L800.9,1113.9" stroke="#000" stroke-width="1.3" fill="none"/><path d="M793.4,1113.5L802.0,1111.4L801.2,1114.0L801.7,1116.6Z" fill="#000"/><path d="M857.6,1141.4L806.3,1136.7" stroke="#000" stroke-width="1.3" fill="none"/><path d="M798.8,1136.0L807.5,1134.2L806.6,1136.7L807.0,1139.4Z" fill="#000"/><path d="M838.0,1191.0L733.4,1184.3" stroke="#000" stroke-width="1.3" fill="none"/><path d="M725.9,1183.8L734.5,1181.8L733.7,1184.3L734.2,1186.9Z" fill="#000"/>
<text transform="matrix(0.46777,0,0,0.45426,182.74,40.61)" font-size="100" font-family="'Liberation Sans',sans-serif" font-weight="normal" fill="#000" stroke="#000" stroke-width="0.91" stroke-linejoin="round">(A)</text>
<text transform="matrix(0.46198,0,0,0.44894,184.68,844.02)" font-size="100" font-family="'Liberation Sans',sans-serif" font-weight="normal" fill="#000" stroke="#000" stroke-width="0.92" stroke-linejoin="round">(B)</text>
<text transform="matrix(0,-0.41854,0.41780,0,44.58,410.62)" font-size="100" font-family="'Liberation Sans',sans-serif" font-weight="normal" fill="#000" stroke="#000" stroke-width="1.00" stroke-linejoin="round">I (mA/cm<tspan font-size="62" dy="-55">2</tspan><tspan dy="55">)</tspan></text>
<text transform="matrix(0.42195,0,0,0.41081,411.97,726.82)" font-size="100" font-family="'Liberation Sans',sans-serif" font-weight="normal" fill="#000" stroke="#000" stroke-width="1.01" stroke-linejoin="round">E (V vs. Li<tspan font-size="60" dy="-56">+</tspan><tspan dy="56">/Li)</tspan></text>
<text transform="matrix(0.33669,0,0,0.32973,448.78,93.62)" font-size="100" font-family="'Liberation Serif',serif" font-weight="bold" fill="#002060">Fe<tspan font-size="64" dy="-31">2+</tspan></text>
<text transform="matrix(0.33550,0,0,0.32973,570.98,41.52)" font-size="100" font-family="'Liberation Serif',serif" font-weight="bold" fill="#002060">Fe<tspan font-size="64" dy="-31">3+</tspan></text>
<text transform="matrix(0.33850,0,0,0.32466,657.97,272.35)" font-size="100" font-family="'Liberation Serif',serif" font-weight="bold" fill="#002060">Mn<tspan font-size="64" dy="-31">2+</tspan></text>
<text transform="matrix(0.33709,0,0,0.32192,787.08,271.25)" font-size="100" font-family="'Liberation Serif',serif" font-weight="bold" fill="#002060">Mn<tspan font-size="64" dy="-31">3+</tspan></text>
<text transform="matrix(0.33897,0,0,0.30137,619.97,417.15)" font-size="100" font-family="'Liberation Serif',serif" font-weight="bold" fill="#4F6228">Mn<tspan font-size="64" dy="-31">2+</tspan></text>
<text transform="matrix(0.33756,0,0,0.31096,718.27,417.15)" font-size="100" font-family="'Liberation Serif',serif" font-weight="bold" fill="#4F6228">Mn<tspan font-size="64" dy="-31">3+</tspan></text>
<text transform="matrix(0.32899,0,0,0.32568,426.29,576.22)" font-size="100" font-family="'Liberation Serif',serif" font-weight="bold" fill="#002060">Fe<tspan font-size="64" dy="-31">2+</tspan></text>
<text transform="matrix(0.33077,0,0,0.32027,532.69,539.43)" font-size="100" font-family="'Liberation Serif',serif" font-weight="bold" fill="#002060">Fe<tspan font-size="64" dy="-31">3+</tspan></text>
<text transform="matrix(0.28091,0,0,0.27553,588.96,64.66)" font-size="100" font-family="'Liberation Sans',sans-serif" font-weight="normal" fill="#000" stroke="#000" stroke-width="1.51" stroke-linejoin="round">(a)</text>
<text transform="matrix(0.28545,0,0,0.27447,609.84,98.59)" font-size="100" font-family="'Liberation Sans',sans-serif" font-weight="normal" fill="#000" stroke="#000" stroke-width="1.50" stroke-linejoin="round">(b)</text>
<text transform="matrix(0.28462,0,0,0.27128,611.94,123.45)" font-size="100" font-family="'Liberation Sans',sans-serif" font-weight="normal" fill="#000" stroke="#000" stroke-width="1.51" stroke-linejoin="round">(c)</text>
<text transform="matrix(0.28636,0,0,0.27128,623.53,156.65)" font-size="100" font-family="'Liberation Sans',sans-serif" font-weight="normal" fill="#000" stroke="#000" stroke-width="1.51" stroke-linejoin="round">(d)</text>
<text transform="matrix(0.28636,0,0,0.25957,345.23,824.90)" font-size="100" font-family="'Liberation Sans',sans-serif" font-weight="normal" fill="#000" stroke="#000" stroke-width="1.54" stroke-linejoin="round">(d)</text>
<text transform="matrix(0.28182,0,0,0.26809,437.46,867.92)" font-size="100" font-family="'Liberation Sans',sans-serif" font-weight="normal" fill="#000" stroke="#000" stroke-width="1.53" stroke-linejoin="round">(b)</text>
<text transform="matrix(0.28091,0,0,0.26489,501.76,901.59)" font-size="100" font-family="'Liberation Sans',sans-serif" font-weight="normal" fill="#000" stroke="#000" stroke-width="1.54" stroke-linejoin="round">(a)</text>
<text transform="matrix(0.28269,0,0,0.26277,540.55,836.63)" font-size="100" font-family="'Liberation Sans',sans-serif" font-weight="normal" fill="#000" stroke="#000" stroke-width="1.54" stroke-linejoin="round">(c)</text>
<text transform="matrix(0.20273,0,0,0.20426,852.03,1094.76)" font-size="100" font-family="'Liberation Sans',sans-serif" font-weight="normal" fill="#000" stroke="#000" stroke-width="2.06" stroke-linejoin="round">(a)</text>
<text transform="matrix(0.20364,0,0,0.20426,858.53,1120.86)" font-size="100" font-family="'Liberation Sans',sans-serif" font-weight="normal" fill="#000" stroke="#000" stroke-width="2.06" stroke-linejoin="round">(b)</text>
<text transform="matrix(0.21058,0,0,0.20426,852.39,1146.96)" font-size="100" font-family="'Liberation Sans',sans-serif" font-weight="normal" fill="#000" stroke="#000" stroke-width="2.03" stroke-linejoin="round">(c)</text>
<text transform="matrix(0.19909,0,0,0.21064,837.26,1196.43)" font-size="100" font-family="'Liberation Sans',sans-serif" font-weight="normal" fill="#000" stroke="#000" stroke-width="2.05" stroke-linejoin="round">(d)</text>
<text transform="matrix(0,-0.40530,0.41171,0,42.99,1151.67)" font-size="100" font-family="'Liberation Sans',sans-serif" font-weight="normal" fill="#000" stroke="#000" stroke-width="1.03" stroke-linejoin="round">Z'<tspan font-size="62" dy="39">im</tspan><tspan dy="-39"> </tspan><tspan font-family="'Liberation Serif',serif" font-size="104.5">(<tspan font-size="89">Ω</tspan>)</tspan></text>
<text transform="matrix(0.40500,0,0,0.40180,443.34,1482.28)" font-size="100" font-family="'Liberation Sans',sans-serif" font-weight="normal" fill="#000" stroke="#000" stroke-width="1.04" stroke-linejoin="round">Z<tspan font-size="62" dy="39">real</tspan><tspan dy="-39"> </tspan><tspan font-family="'Liberation Serif',serif" font-size="104.5">(<tspan font-size="89">Ω</tspan>)</tspan></text>
<text transform="matrix(0,-0.26358,0.27207,0,475.84,1206.94)" font-size="100" font-family="'Liberation Sans',sans-serif" font-weight="normal" fill="#000" stroke="#000" stroke-width="1.57" stroke-linejoin="round">Z'<tspan font-size="62" dy="39">im</tspan><tspan dy="-39"> </tspan><tspan font-family="'Liberation Serif',serif" font-size="104.5">(<tspan font-size="89">Ω</tspan>)</tspan></text>
<text transform="matrix(0.27500,0,0,0.25856,649.62,1360.17)" font-size="100" font-family="'Liberation Sans',sans-serif" font-weight="normal" fill="#000" stroke="#000" stroke-width="1.58" stroke-linejoin="round">Z<tspan font-size="62" dy="39">real</tspan><tspan dy="-39"> </tspan><tspan font-family="'Liberation Serif',serif" font-size="104.5">(<tspan font-size="89">Ω</tspan>)</tspan></text>
<text transform="matrix(0.31221,0,0,0.31268,88.80,38.64)" font-size="100" font-family="'Liberation Sans',sans-serif" font-weight="normal" fill="#000" stroke="#000" stroke-width="1.34" stroke-linejoin="round">0.6</text>
<text transform="matrix(0.31221,0,0,0.31268,88.49,144.44)" font-size="100" font-family="'Liberation Sans',sans-serif" font-weight="normal" fill="#000" stroke="#000" stroke-width="1.34" stroke-linejoin="round">0.4</text>
<text transform="matrix(0.31221,0,0,0.31268,89.11,250.24)" font-size="100" font-family="'Liberation Sans',sans-serif" font-weight="normal" fill="#000" stroke="#000" stroke-width="1.34" stroke-linejoin="round">0.2</text>
<text transform="matrix(0.31221,0,0,0.31268,88.80,356.04)" font-size="100" font-family="'Liberation Sans',sans-serif" font-weight="normal" fill="#000" stroke="#000" stroke-width="1.34" stroke-linejoin="round">0.0</text>
<text transform="matrix(0.31221,0,0,0.31268,78.81,461.84)" font-size="100" font-family="'Liberation Sans',sans-serif" font-weight="normal" fill="#000" stroke="#000" stroke-width="1.34" stroke-linejoin="round">-0.2</text>
<text transform="matrix(0.31221,0,0,0.31268,78.19,567.64)" font-size="100" font-family="'Liberation Sans',sans-serif" font-weight="normal" fill="#000" stroke="#000" stroke-width="1.34" stroke-linejoin="round">-0.4</text>
<text transform="matrix(0.31846,0,0,0.31690,129.61,661.63)" font-size="100" font-family="'Liberation Sans',sans-serif" font-weight="normal" fill="#000" stroke="#000" stroke-width="1.32" stroke-linejoin="round">2.5</text>
<text transform="matrix(0.31846,0,0,0.31690,327.52,661.63)" font-size="100" font-family="'Liberation Sans',sans-serif" font-weight="normal" fill="#000" stroke="#000" stroke-width="1.32" stroke-linejoin="round">3.0</text>
<text transform="matrix(0.31846,0,0,0.31690,525.27,661.63)" font-size="100" font-family="'Liberation Sans',sans-serif" font-weight="normal" fill="#000" stroke="#000" stroke-width="1.32" stroke-linejoin="round">3.5</text>
<text transform="matrix(0.31846,0,0,0.31690,723.34,661.63)" font-size="100" font-family="'Liberation Sans',sans-serif" font-weight="normal" fill="#000" stroke="#000" stroke-width="1.32" stroke-linejoin="round">4.0</text>
<text transform="matrix(0.31846,0,0,0.31690,921.09,661.63)" font-size="100" font-family="'Liberation Sans',sans-serif" font-weight="normal" fill="#000" stroke="#000" stroke-width="1.32" stroke-linejoin="round">4.5</text>
<text transform="matrix(0.30235,0,0,0.30000,130.03,1392.25)" font-size="100" font-family="'Liberation Sans',sans-serif" font-weight="normal" fill="#000" stroke="#000" stroke-width="1.39" stroke-linejoin="round">0</text>
<text transform="matrix(0.30235,0,0,0.30000,79.84,1296.63)" font-size="100" font-family="'Liberation Sans',sans-serif" font-weight="normal" fill="#000" stroke="#000" stroke-width="1.39" stroke-linejoin="round">1000</text>
<text transform="matrix(0.30235,0,0,0.30000,79.84,1201.01)" font-size="100" font-family="'Liberation Sans',sans-serif" font-weight="normal" fill="#000" stroke="#000" stroke-width="1.39" stroke-linejoin="round">2000</text>
<text transform="matrix(0.30235,0,0,0.30000,79.84,1105.39)" font-size="100" font-family="'Liberation Sans',sans-serif" font-weight="normal" fill="#000" stroke="#000" stroke-width="1.39" stroke-linejoin="round">3000</text>
<text transform="matrix(0.30235,0,0,0.30000,79.84,1009.77)" font-size="100" font-family="'Liberation Sans',sans-serif" font-weight="normal" fill="#000" stroke="#000" stroke-width="1.39" stroke-linejoin="round">4000</text>
<text transform="matrix(0.30235,0,0,0.30000,79.84,914.15)" font-size="100" font-family="'Liberation Sans',sans-serif" font-weight="normal" fill="#000" stroke="#000" stroke-width="1.39" stroke-linejoin="round">5000</text>
<text transform="matrix(0.30235,0,0,0.30000,79.84,818.53)" font-size="100" font-family="'Liberation Sans',sans-serif" font-weight="normal" fill="#000" stroke="#000" stroke-width="1.39" stroke-linejoin="round">6000</text>
<text transform="matrix(0.29579,0,0,0.27606,157.32,1426.77)" font-size="100" font-family="'Liberation Sans',sans-serif" font-weight="normal" fill="#000" stroke="#000" stroke-width="1.47" stroke-linejoin="round">0</text>
<text transform="matrix(0.29579,0,0,0.27606,275.94,1426.77)" font-size="100" font-family="'Liberation Sans',sans-serif" font-weight="normal" fill="#000" stroke="#000" stroke-width="1.47" stroke-linejoin="round">1000</text>
<text transform="matrix(0.29579,0,0,0.27606,420.14,1426.77)" font-size="100" font-family="'Liberation Sans',sans-serif" font-weight="normal" fill="#000" stroke="#000" stroke-width="1.47" stroke-linejoin="round">2000</text>
<text transform="matrix(0.29579,0,0,0.27606,564.05,1426.77)" font-size="100" font-family="'Liberation Sans',sans-serif" font-weight="normal" fill="#000" stroke="#000" stroke-width="1.47" stroke-linejoin="round">3000</text>
<text transform="matrix(0.29579,0,0,0.27606,708.10,1426.77)" font-size="100" font-family="'Liberation Sans',sans-serif" font-weight="normal" fill="#000" stroke="#000" stroke-width="1.47" stroke-linejoin="round">4000</text>
<text transform="matrix(0.29579,0,0,0.27606,851.57,1426.77)" font-size="100" font-family="'Liberation Sans',sans-serif" font-weight="normal" fill="#000" stroke="#000" stroke-width="1.47" stroke-linejoin="round">5000</text>
<text transform="matrix(0.19684,0,0,0.19296,502.51,1320.36)" font-size="100" font-family="'Liberation Sans',sans-serif" font-weight="normal" fill="#000" stroke="#000" stroke-width="2.16" stroke-linejoin="round">0</text>
<text transform="matrix(0.19684,0,0,0.19296,491.69,1257.08)" font-size="100" font-family="'Liberation Sans',sans-serif" font-weight="normal" fill="#000" stroke="#000" stroke-width="2.16" stroke-linejoin="round">50</text>
<text transform="matrix(0.19684,0,0,0.19296,480.67,1193.80)" font-size="100" font-family="'Liberation Sans',sans-serif" font-weight="normal" fill="#000" stroke="#000" stroke-width="2.16" stroke-linejoin="round">100</text>
<text transform="matrix(0.19684,0,0,0.19296,480.67,1130.52)" font-size="100" font-family="'Liberation Sans',sans-serif" font-weight="normal" fill="#000" stroke="#000" stroke-width="2.16" stroke-linejoin="round">150</text>
<text transform="matrix(0.19684,0,0,0.19296,480.67,1067.24)" font-size="100" font-family="'Liberation Sans',sans-serif" font-weight="normal" fill="#000" stroke="#000" stroke-width="2.16" stroke-linejoin="round">200</text>
<text transform="matrix(0.20000,0,0,0.18028,518.40,1338.17)" font-size="100" font-family="'Liberation Sans',sans-serif" font-weight="normal" fill="#000" stroke="#000" stroke-width="2.21" stroke-linejoin="round">0</text>
<text transform="matrix(0.20000,0,0,0.18028,589.35,1338.17)" font-size="100" font-family="'Liberation Sans',sans-serif" font-weight="normal" fill="#000" stroke="#000" stroke-width="2.21" stroke-linejoin="round">100</text>
<text transform="matrix(0.20000,0,0,0.18028,672.10,1338.17)" font-size="100" font-family="'Liberation Sans',sans-serif" font-weight="normal" fill="#000" stroke="#000" stroke-width="2.21" stroke-linejoin="round">200</text>
<text transform="matrix(0.20000,0,0,0.18028,754.65,1338.17)" font-size="100" font-family="'Liberation Sans',sans-serif" font-weight="normal" fill="#000" stroke="#000" stroke-width="2.21" stroke-linejoin="round">300</text>
<text transform="matrix(0.20000,0,0,0.18028,837.30,1338.17)" font-size="100" font-family="'Liberation Sans',sans-serif" font-weight="normal" fill="#000" stroke="#000" stroke-width="2.21" stroke-linejoin="round">400</text>
</svg>
</body></html>
